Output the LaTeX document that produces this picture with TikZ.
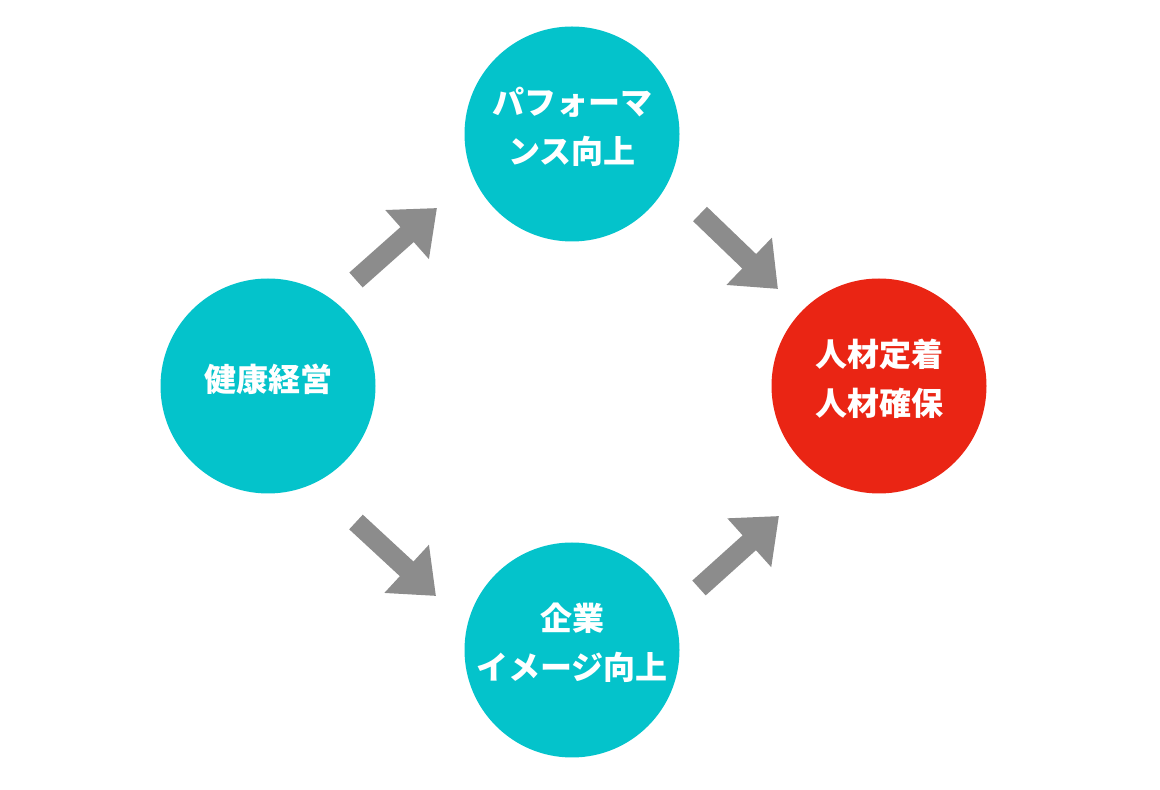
\documentclass[tikz,border=0pt]{standalone}
\usepackage{fontspec}
\newfontfamily\jpfont{Noto Sans CJK JP}
\usepackage{xcolor}
\usetikzlibrary{arrows.meta}
\definecolor{teal}{RGB}{4,195,203}
\definecolor{akared}{RGB}{234,37,20}
\definecolor{arrowgray}{RGB}{140,140,140}

\begin{document}
\begin{tikzpicture}[x=1pt, y=1pt,
		maru/.style = {circle, fill = teal, minimum size = 215pt, inner sep = 0pt, text depth = 17pt, text = white, align = center, font = \jpfont\bfseries\fontsize{32}{49}\selectfont},
		yajirushi/.style = {draw = arrowgray, line width = 20pt, -{Triangle[length = 40pt, width = 63pt]}}]
		\useasboundingbox (0,0) rectangle (1160,790);
		\node[maru] (hk) at (268,404) {健康経営};
		\node[maru] (pf) at (572,656) {パフォーマ\\ンス向上};
		\node[maru] (ki) at (572,140) {企業\\イメージ向上};
		\node[maru, fill = akared] (jz) at (879,404) {人材定着\\人材確保};
		\draw[yajirushi] ([shift = {(88,106)}]hk.center) -- ([shift = {(-135,-74)}]pf.center);
		\draw[yajirushi] ([shift = {(128,-80)}]pf.center) -- ([shift = {(-101,97)}]jz.center);
		\draw[yajirushi] ([shift = {(88,-136)}]hk.center) -- ([shift = {(-136,54)}]ki.center);
		\draw[yajirushi] ([shift = {(127,62)}]ki.center) -- ([shift = {(-100,-130)}]jz.center);
	\end{tikzpicture}
\end{document}
